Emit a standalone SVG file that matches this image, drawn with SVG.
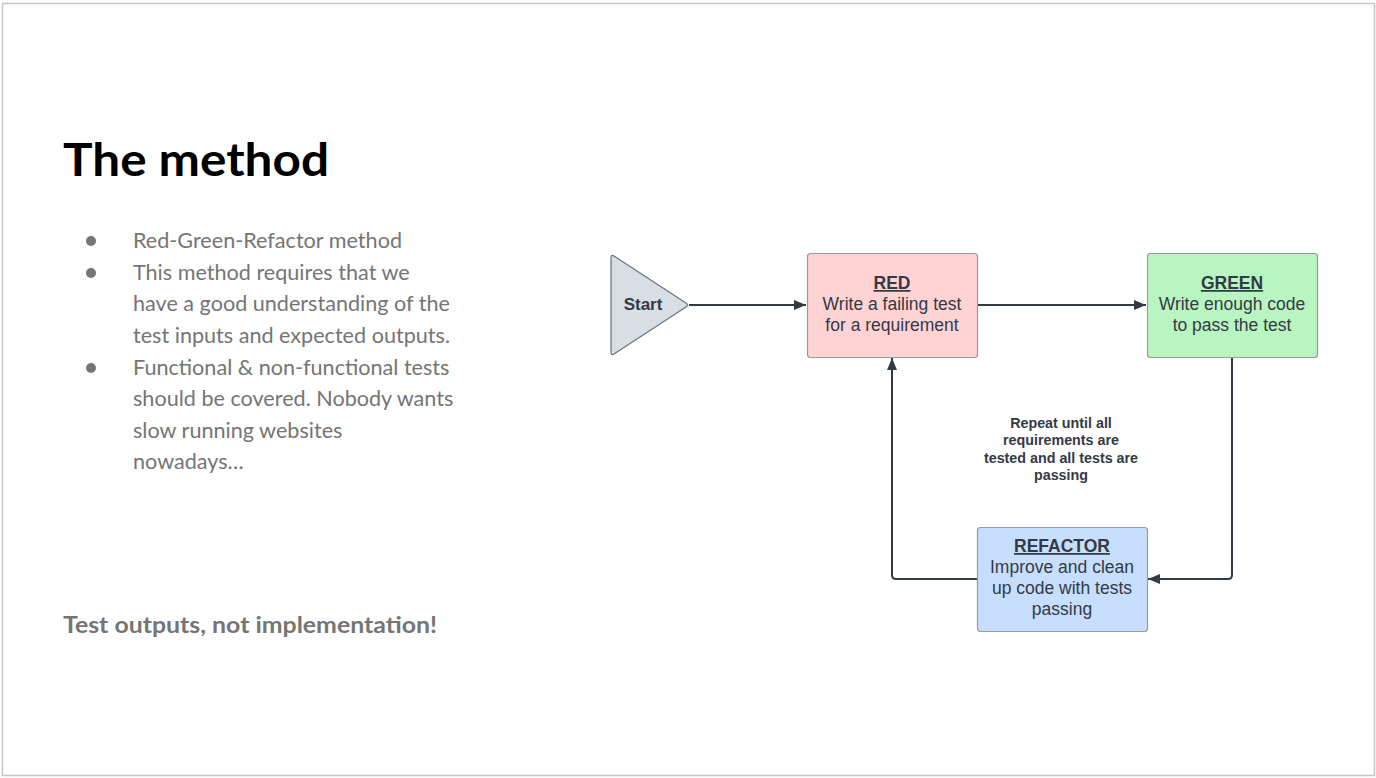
<svg xmlns="http://www.w3.org/2000/svg" width="1376" height="778" viewBox="0 0 1376 778">
  <style>
    .title { font-family: "Lato", "Open Sans", sans-serif; font-weight: 700; font-size: 45px; fill: #000; }
    .bullet { font-family: "Lato", "Open Sans", sans-serif; font-size: 21.6px; fill: #757575; }
    .note { font-family: "Lato", "Open Sans", sans-serif; font-weight: 700; font-size: 22px; fill: #757575; }
    .box { stroke: #9a9a9a; stroke-width: 1.2; }
    .hd { font-family: "Liberation Sans", Arial, sans-serif; font-weight: 700; font-size: 17.5px; fill: #333a44; text-decoration: underline; text-anchor: middle; }
    .bd { font-family: "Liberation Sans", Arial, sans-serif; font-size: 17.5px; fill: #333a44; text-anchor: middle; }
    .lbl { font-family: "Liberation Sans", Arial, sans-serif; font-weight: 700; font-size: 14.3px; fill: #333a44; text-anchor: middle; }
    .conn { fill: none; stroke: #333a44; stroke-width: 2; stroke-linejoin: round; }
  </style>
  <defs>
    <marker id="arrow" viewBox="0 0 12 10" refX="12" refY="5" markerWidth="12" markerHeight="10" markerUnits="userSpaceOnUse" orient="auto">
      <path d="M0,0 L12,5 L0,10 Z" fill="#333a44"/>
    </marker>
  </defs>

  <!-- slide frame -->
  <rect x="2.5" y="3.5" width="1372" height="772" fill="#fff" stroke="#c4c6cb" stroke-width="1.5"/>

  <!-- left column -->
  <text class="title" x="63" y="176" textLength="266" lengthAdjust="spacingAndGlyphs">The method</text>
  <g id="bullets">
    <circle cx="91" cy="241" r="5" fill="#757575"/>
    <circle cx="91" cy="273" r="5" fill="#757575"/>
    <circle cx="91" cy="368" r="5" fill="#757575"/>
    <text class="bullet" x="133" y="248">Red-Green-Refactor method</text>
    <text class="bullet" x="133" y="280">This method requires that we</text>
    <text class="bullet" x="133" y="311">have a good understanding of the</text>
    <text class="bullet" x="133" y="343">test inputs and expected outputs.</text>
    <text class="bullet" x="133" y="375">Functional &amp; non-functional tests</text>
    <text class="bullet" x="133" y="406">should be covered. Nobody wants</text>
    <text class="bullet" x="133" y="438">slow running websites</text>
    <text class="bullet" x="133" y="469">nowadays…</text>
  </g>
  <text class="note" x="63" y="633" textLength="374" lengthAdjust="spacingAndGlyphs">Test outputs, not implementation!</text>

  <!-- connectors -->
  <g id="connectors">
    <path class="conn" d="M689,305 H806" marker-end="url(#arrow)"/>
    <path class="conn" d="M977,305 H1146" marker-end="url(#arrow)"/>
    <path class="conn" d="M1232,357 V575 Q1232,579 1228,579 H1148" marker-end="url(#arrow)"/>
    <path class="conn" d="M977,579 H896 Q892,579 892,575 V358" marker-end="url(#arrow)"/>
    <text class="lbl" x="1061" y="428">Repeat until all</text>
    <text class="lbl" x="1061" y="445">requirements are</text>
    <text class="lbl" x="1061" y="463">tested and all tests are</text>
    <text class="lbl" x="1061" y="480">passing</text>
  </g>

  <g id="start">
    <path d="M611,258 Q611,254 614,256 L686,303 Q689,305 686,307 L614,354 Q611,356 611,352 Z" fill="#d9dde4" stroke="#6b7280" stroke-width="1.2"/>
    <text x="643" y="310" font-family="Liberation Sans, Arial, sans-serif" font-weight="700" font-size="17" fill="#333a44" text-anchor="middle">Start</text>
  </g>

  <g id="red">
    <rect class="box" x="807.5" y="253.5" width="170" height="104" rx="3" fill="#ffd3d4"/>
    <text class="hd" x="892" y="289">RED</text>
    <text class="bd" x="892" y="310">Write a failing test</text>
    <text class="bd" x="892" y="331">for a requirement</text>
  </g>

  <g id="green">
    <rect class="box" x="1147.5" y="253.5" width="170" height="104" rx="3" fill="#b8f5c0"/>
    <text class="hd" x="1232" y="289">GREEN</text>
    <text class="bd" x="1232" y="310">Write enough code</text>
    <text class="bd" x="1232" y="331">to pass the test</text>
  </g>

  <g id="refactor">
    <rect class="box" x="977.5" y="527.5" width="170" height="104" rx="3" fill="#c7defe"/>
    <text class="hd" x="1062" y="552">REFACTOR</text>
    <text class="bd" x="1062" y="573">Improve and clean</text>
    <text class="bd" x="1062" y="594">up code with tests</text>
    <text class="bd" x="1062" y="615">passing</text>
  </g>
</svg>
